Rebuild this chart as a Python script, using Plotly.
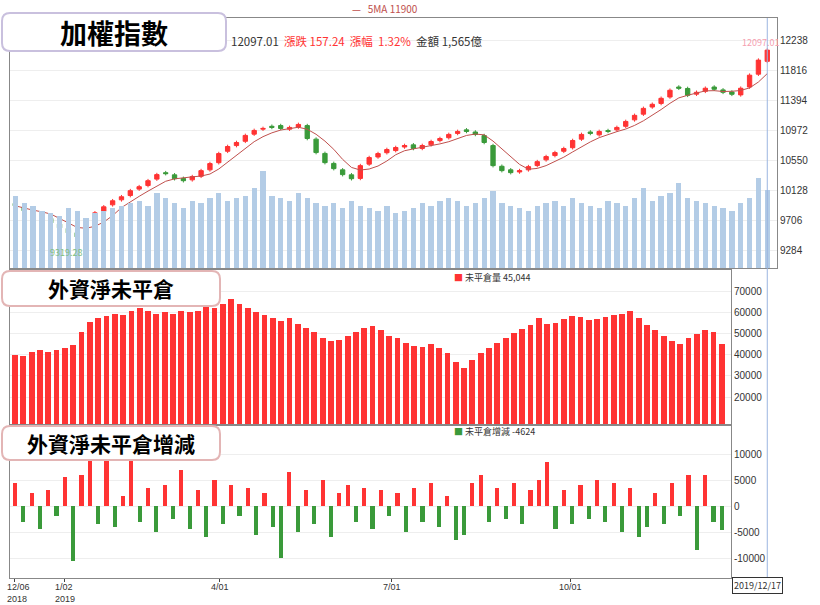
import plotly.graph_objects as go
from plotly.subplots import make_subplots
import pandas as pd

close = [9916,9846,9804,9762,9677,9607,9537,9480,9706,9818,9902,9987,10043,10128,10184,10268,10353,10367,10296,10268,
         10325,10409,10508,10648,10747,10803,10902,10972,11000,11014,11000,11014,11056,10859,10662,10521,10437,10353,10296,10479,
         10592,10648,10705,10733,10761,10719,10761,10817,10859,10916,10958,10958,10916,10803,10479,10409,10381,10409,10465,10535,
         10606,10662,10719,10831,10916,10930,10958,10958,11014,11098,11183,11281,11338,11422,11535,11563,11464,11506,11563,11549,
         11506,11478,11563,11746,11957,12097]
open_ = [9950,9900,9830,9800,9740,9660,9600,9540,9500,9720,9840,9930,10000,10060,10150,10200,10290,10380,10350,10300,
         10280,10330,10420,10520,10680,10760,10820,10920,10990,11030,11040,10990,11020,11040,10850,10650,10510,10420,10350,10300,
         10500,10600,10660,10690,10740,10770,10720,10770,10830,10870,10930,10980,10950,10900,10760,10470,10420,10390,10420,10480,
         10560,10620,10680,10730,10850,10950,10910,10970,10980,11030,11120,11200,11300,11350,11440,11580,11560,11480,11520,11580,
         11540,11510,11470,11580,11760,11940]
volume = [1450,1300,1250,1150,1100,1050,1200,1150,1000,1100,1150,1200,1250,1300,1350,1250,1500,1400,1300,1200,
          1350,1300,1400,1500,1350,1400,1450,1600,1950,1450,1400,1350,1500,1400,1300,1250,1300,1200,1350,1250,
          1200,1150,1250,1100,1150,1200,1300,1250,1350,1400,1350,1250,1300,1400,1550,1300,1250,1200,1150,1250,
          1300,1350,1250,1400,1300,1250,1200,1350,1300,1250,1400,1600,1350,1450,1500,1700,1400,1350,1300,1250,
          1200,1150,1300,1400,1800,1565]
oi = [39700,39200,41100,42000,41100,42000,43000,44400,50500,55200,57100,58000,59000,58500,60800,61800,60800,59400,59900,59400,
      60400,59900,60800,62700,62200,64100,66000,63700,61800,59900,58500,57100,55700,57100,54300,52400,50500,47700,46300,46800,
      48600,50500,52400,53300,51500,48600,47700,45400,43900,43500,44900,43000,40700,36400,33600,37400,40700,43000,45400,47700,
      50000,51900,53800,57100,54300,54800,56600,58000,57600,56200,56600,57600,58500,59400,60800,57100,53800,51500,48600,46300,
      44900,47700,49600,51500,50500,45044]
oi_chg = [4500,-3000,2500,-4500,3000,-2000,5500,-10500,6000,9000,-3500,9500,-4000,2000,9000,-3000,3500,-5000,4000,-2500,
          7000,-4500,3000,-6000,5000,-3500,4000,-2000,3500,-5500,2500,-4000,-10000,6500,-5000,3000,-3500,5000,-6000,2500,
          4000,-3000,3500,-4500,3000,-2000,2500,-5000,3500,-3000,4500,-4000,2000,-6500,-5500,4500,6000,-3000,3500,-2500,
          4500,-3500,3000,5000,8500,-4500,3000,-3500,4000,-2500,5000,-3000,4500,-5000,3500,-6000,-4000,2500,-3500,4500,
          -2000,6000,-8500,6000,-3000,-4624]
tick_pos = [0, 6, 24.6, 45.3, 66.8]
tick_text = ["12/06<br>2018", "1/02<br>2019", "4/01", "7/01", "10/01"]
price_ticks = [9284, 9706, 10128, 10550, 10972, 11394, 11816, 12238]
oi_ticks = [20000, 30000, 40000, 50000, 60000, 70000]
chg_ticks = [-10000, -5000, 0, 5000, 10000]

x = list(range(len(close)))
high = [max(o, c) + 25 for o, c in zip(open_, close)]
low = [min(o, c) - 25 for o, c in zip(open_, close)]
ma5 = pd.Series(close).rolling(5, min_periods=1).mean()

RED, GREEN = "#ff3333", "#3a9a3a"
fig = make_subplots(rows=3, cols=1, shared_xaxes=True, vertical_spacing=0,
                    specs=[[{"secondary_y": True}], [{}], [{}]])
fig.add_trace(go.Bar(x=x, y=volume, marker_color="#b3cce6", marker_line_width=0, width=0.6), row=1, col=1, secondary_y=True)
fig.add_trace(go.Candlestick(x=x, open=open_, high=high, low=low, close=close,
                             increasing=dict(line=dict(color=RED, width=1), fillcolor=RED),
                             decreasing=dict(line=dict(color=GREEN, width=1), fillcolor=GREEN),
                             whiskerwidth=0), row=1, col=1, secondary_y=False)
fig.add_trace(go.Scatter(x=x, y=ma5, mode="lines", line=dict(color="#c0504d", width=1)), row=1, col=1, secondary_y=False)
fig.add_trace(go.Bar(x=x, y=oi, marker_color=RED, marker_line_width=0, width=0.7), row=2, col=1)
fig.add_trace(go.Bar(x=x, y=oi_chg, marker_color=[RED if v >= 0 else GREEN for v in oi_chg],
                     marker_line_width=0, width=0.5), row=3, col=1)

W, H = 820, 605
L, R, T, B = 10, 777, 18, 578  # plot area in reference pixels
def px(xp): return (xp - L) / (R - L)
def py(yp): return (B - yp) / (B - T)

tickf = dict(size=10, color="#333", family="Liberation Sans")
ax = dict(showline=True, linecolor="#888", mirror=True, showgrid=True, gridcolor="#eee",
          side="right", tickfont=tickf, zeroline=False, ticks="", automargin=False)
xr = [-0.6, 86.1]
fig.update_layout(
    width=W, height=H, margin=dict(l=L, r=W - R, t=T, b=H - B),
    plot_bgcolor="white", paper_bgcolor="white", showlegend=False, bargap=0,
    xaxis=dict(domain=[0, 1], range=xr, showline=True, linecolor="#888", mirror=True, automargin=False,
               showgrid=False, rangeslider=dict(visible=False), showticklabels=False),
    xaxis2=dict(range=xr, showline=True, linecolor="#888", mirror=True, showgrid=False, showticklabels=False, automargin=False),
    xaxis3=dict(range=xr, showline=True, linecolor="#888", mirror=True, showgrid=False, automargin=False,
                tickvals=tick_pos, ticktext=[""] * len(tick_pos), ticks="outside", ticklen=3),
    yaxis=dict(ax, domain=[py(268), 1], range=[9045, 12547],
               tickvals=price_ticks, ticktext=[str(v) for v in price_ticks]),
    yaxis2=dict(overlaying="y", range=[0, 5000], visible=False),
    yaxis3=dict(ax, domain=[py(425), py(270)], range=[6850, 79900],
                tickvals=oi_ticks, ticktext=[str(v) for v in oi_ticks]),
    yaxis4=dict(ax, domain=[0, py(425)], range=[-13850, 15600],
                tickvals=chg_ticks, ticktext=[str(v) for v in chg_ticks]),
)
for pos, txt in zip(tick_pos, tick_text):
    fig.add_annotation(x=pos, xref="x3", y=py(580), yref="paper", text=txt, showarrow=False, align="left",
                       xanchor="left" if pos == 0 else "center", yanchor="top",
                       xshift=-10 if pos == 0 else 0,
                       font=dict(size=9, color="#333", family="Liberation Sans"))

def rbox(x0, y0, x1, y1, color, r=8):
    X0, X1, Y0, Y1 = px(x0), px(x1), py(y0), py(y1)
    rx, ry = r / (R - L), r / (B - T)
    path = (f"M {X0+rx},{Y0} L {X1-rx},{Y0} Q {X1},{Y0} {X1},{Y0-ry} L {X1},{Y1+ry} Q {X1},{Y1} {X1-rx},{Y1} "
            f"L {X0+rx},{Y1} Q {X0},{Y1} {X0},{Y1+ry} L {X0},{Y0-ry} Q {X0},{Y0} {X0+rx},{Y0} Z")
    fig.add_shape(type="path", path=path, xref="paper", yref="paper", line=dict(color=color, width=2),
                  fillcolor="white", layer="above")

rbox(2, 13, 226, 51, "#c9c0de")
rbox(2, 271, 220, 306, "#e3b5b5")
rbox(2, 426, 220, 460, "#e3b5b5")
cjk = "Noto Sans CJK TC"
def ann(xp, yp, text, size, color="#000", xanchor="left", **kw):
    fig.add_annotation(x=px(xp), y=py(yp), xref="paper", yref="paper", text=text, showarrow=False,
                       xanchor=xanchor, yanchor="middle", font=dict(size=size, color=color, family=cjk), **kw)

ann(114, 32, "<b>加權指數</b>", 27, xanchor="center")
ann(111, 288, "<b>外資淨未平倉</b>", 21, xanchor="center")
ann(111, 443, "<b>外資淨未平倉增減</b>", 21, xanchor="center")
ann(229, 41, "12097.01  <span style='color:#ff3333'>漲跌 157.24  漲幅  1.32%</span>  金額 1,565億", 11.5, "#333")
ann(385, 8, "<span style='color:#c0504d'>—</span>   5MA 11900", 10, "#c0504d", xanchor="center")
ann(452, 277, "<span style='color:#ff3333'>■</span> 未平倉量 45,044", 9, "#333")
ann(452, 431, "<span style='color:#3a9a3a'>■</span> 未平倉增減 -4624", 9, "#333")
ann(760, 43, "12097.01", 9, "#f5a0b0", xanchor="center")
ann(66, 253, "9319.28", 9, "#7fbf7f", xanchor="center")
ann(757, 585, "2019/12/17", 9, "#333", xanchor="center", bordercolor="#333", borderwidth=1, bgcolor="white")
fig.add_shape(type="line", x0=85, x1=85, xref="x", y0=0, y1=1, yref="paper",
              line=dict(color="#9bb5e0", width=1), layer="above")
fig.write_html("out.html", config={"displayModeBar": False},
               post_script="document.body.style.margin='0px';document.body.style.overflow='hidden';")
